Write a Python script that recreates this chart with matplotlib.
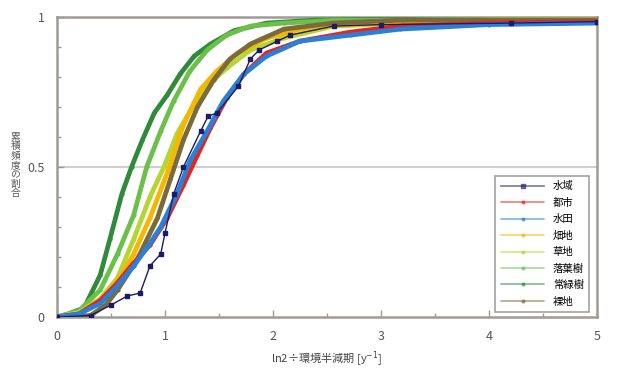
import matplotlib
matplotlib.use('Agg')
from matplotlib import pyplot as plt
from matplotlib.ticker import MultipleLocator, FuncFormatter

plt.rcParams['font.family'] = ['Noto Sans CJK JP', 'DejaVu Sans']

# series names (legend order)
names = ['水域', '都市', '水田', '畑地', '草地', '落葉樹', '常緑樹', '裸地']

# values: x = ln2 / half-life [1/y], y = cumulative fraction
suiiki_x = [0.0, 0.31, 0.5, 0.65, 0.77, 0.86, 0.96, 1.0, 1.08, 1.17, 1.33, 1.4, 1.48, 1.68, 1.79, 1.87, 2.04, 2.16, 2.56, 3.0, 4.2, 5.0]
suiiki_y = [0.0, 0.005, 0.04, 0.07, 0.08, 0.17, 0.21, 0.28, 0.41, 0.50, 0.62, 0.67, 0.68, 0.77, 0.86, 0.89, 0.92, 0.94, 0.97, 0.975, 0.98, 0.985]

toshi_x = [0.0, 0.2, 0.4, 0.55, 0.71, 0.86, 1.02, 1.17, 1.3, 1.42, 1.57, 1.73, 1.94, 2.25, 2.72, 3.18, 4.0, 5.0]
toshi_y = [0.0, 0.01, 0.055, 0.11, 0.18, 0.24, 0.33, 0.44, 0.54, 0.63, 0.73, 0.81, 0.88, 0.92, 0.95, 0.97, 0.98, 0.985]

suiden_x = [0.0, 0.2, 0.4, 0.55, 0.71, 0.85, 0.96, 1.11, 1.23, 1.39, 1.54, 1.73, 1.94, 2.25, 2.72, 3.18, 4.0, 5.0]
suiden_y = [0.0, 0.01, 0.045, 0.10, 0.17, 0.24, 0.30, 0.41, 0.52, 0.62, 0.72, 0.81, 0.87, 0.92, 0.94, 0.96, 0.975, 0.98]

hatachi_x = [0.0, 0.2, 0.45, 0.6, 0.71, 0.86, 1.02, 1.17, 1.33, 1.48, 1.67, 1.94, 2.25, 2.7, 3.2, 4.0, 5.0]
hatachi_y = [0.0, 0.01, 0.07, 0.14, 0.21, 0.33, 0.48, 0.64, 0.76, 0.82, 0.88, 0.93, 0.96, 0.975, 0.985, 0.99, 0.99]

souchi_x = [0.0, 0.2, 0.4, 0.56, 0.71, 0.86, 0.99, 1.11, 1.27, 1.42, 1.57, 1.79, 2.1, 2.56, 3.2, 4.0, 5.0]
souchi_y = [0.0, 0.015, 0.06, 0.13, 0.26, 0.40, 0.50, 0.61, 0.71, 0.78, 0.83, 0.89, 0.93, 0.97, 0.98, 0.99, 0.99]

rakuyo_x = [0.0, 0.2, 0.4, 0.56, 0.71, 0.83, 0.96, 1.08, 1.23, 1.39, 1.57, 1.79, 2.1, 2.6, 3.2, 4.0, 5.0]
rakuyo_y = [0.0, 0.02, 0.09, 0.21, 0.34, 0.50, 0.62, 0.72, 0.82, 0.89, 0.94, 0.97, 0.98, 0.99, 0.99, 0.995, 0.995]

joryoku_x = [0.0, 0.1, 0.25, 0.4, 0.49, 0.6, 0.69, 0.79, 0.9, 1.02, 1.14, 1.27, 1.42, 1.64, 1.94, 2.4, 3.2, 4.0, 5.0]
joryoku_y = [0.0, 0.01, 0.03, 0.14, 0.26, 0.41, 0.50, 0.59, 0.68, 0.74, 0.81, 0.87, 0.91, 0.955, 0.98, 0.99, 0.995, 0.995, 1.0]

rachi_x = [0.0, 0.31, 0.45, 0.56, 0.74, 0.93, 1.05, 1.17, 1.3, 1.45, 1.6, 1.79, 2.1, 2.56, 3.2, 4.0, 5.0]
rachi_y = [0.0, 0.005, 0.04, 0.09, 0.19, 0.33, 0.46, 0.59, 0.70, 0.79, 0.86, 0.91, 0.96, 0.98, 0.99, 0.99, 0.99]

xs = [suiiki_x, toshi_x, suiden_x, hatachi_x, souchi_x, rakuyo_x, joryoku_x, rachi_x]
ys = [suiiki_y, toshi_y, suiden_y, hatachi_y, souchi_y, rakuyo_y, joryoku_y, rachi_y]
colors = ['#1c1c66', '#e8231e', '#2a80d6', '#f5b800', '#b8d430', '#6cc04a', '#2f8a3a', '#7b6a3c']

fig = plt.figure(figsize=(6.35, 3.85), dpi=100)
ax = fig.add_axes([0.0898, 0.1766, 0.8504, 0.779])

ax.axhline(0.5, color='#cfcfcf', lw=1.5, zorder=1)

# thick curves first, the thin marked 水域 curve on top
order = [6, 5, 4, 3, 7, 1, 2, 0]
handles = {}
for i in order:
    if i == 0:
        h, = ax.plot(xs[i], ys[i], color=colors[i], lw=1.0, marker='s', ms=2.5, zorder=5, label=names[i])
    else:
        h, = ax.plot(xs[i], ys[i], color=colors[i], lw=3.4, marker='o', ms=2, zorder=3,
                     solid_joinstyle='round', solid_capstyle='round', label=names[i])
    handles[i] = h

ax.set_xlim(0, 5)
ax.set_ylim(0, 1)
ax.xaxis.set_major_locator(MultipleLocator(1))
ax.xaxis.set_minor_locator(MultipleLocator(0.5))
ax.yaxis.set_major_locator(MultipleLocator(0.5))
ax.yaxis.set_minor_locator(MultipleLocator(0.1))
ax.xaxis.set_major_formatter(FuncFormatter(lambda v, p: '%g' % v))
ax.yaxis.set_major_formatter(FuncFormatter(lambda v, p: '%g' % v))
ax.tick_params(which='both', direction='in', color='#9a9a9a', labelcolor='#555555', labelsize=9)
ax.tick_params(which='major', length=5, width=1)
ax.tick_params(which='minor', length=3, width=1)
ax.tick_params(axis='x', pad=9)
ax.tick_params(axis='y', pad=9)
for s in ax.spines.values():
    s.set_color('#a09a96')
    s.set_linewidth(1.8)

ax.set_xlabel('ln2÷環境半減期 [y$^{-1}$]', fontsize=8, color='#444444', labelpad=5)

# vertical y label, one character per row
ylab = '累積頻度の割合'
for k, ch in enumerate(ylab):
    fig.text(0.024, 0.645 - k * 0.0245, ch, fontsize=7, color='#555555', ha='center', va='center')

leg = ax.legend([handles[i] for i in range(8)], names, loc='lower right',
                bbox_to_anchor=(0.995, 0.0), fontsize=7.5, frameon=True, fancybox=False,
                handlelength=4.2, labelspacing=0.62, borderpad=0.5, handletextpad=0.8)
leg.get_frame().set_edgecolor('#8a8a8a')
leg.get_frame().set_linewidth(1.2)
for lh in leg.get_lines():
    lh.set_linewidth(1.2)
    lh.set_alpha(0.6)

fig.savefig('out.png', dpi=100)
